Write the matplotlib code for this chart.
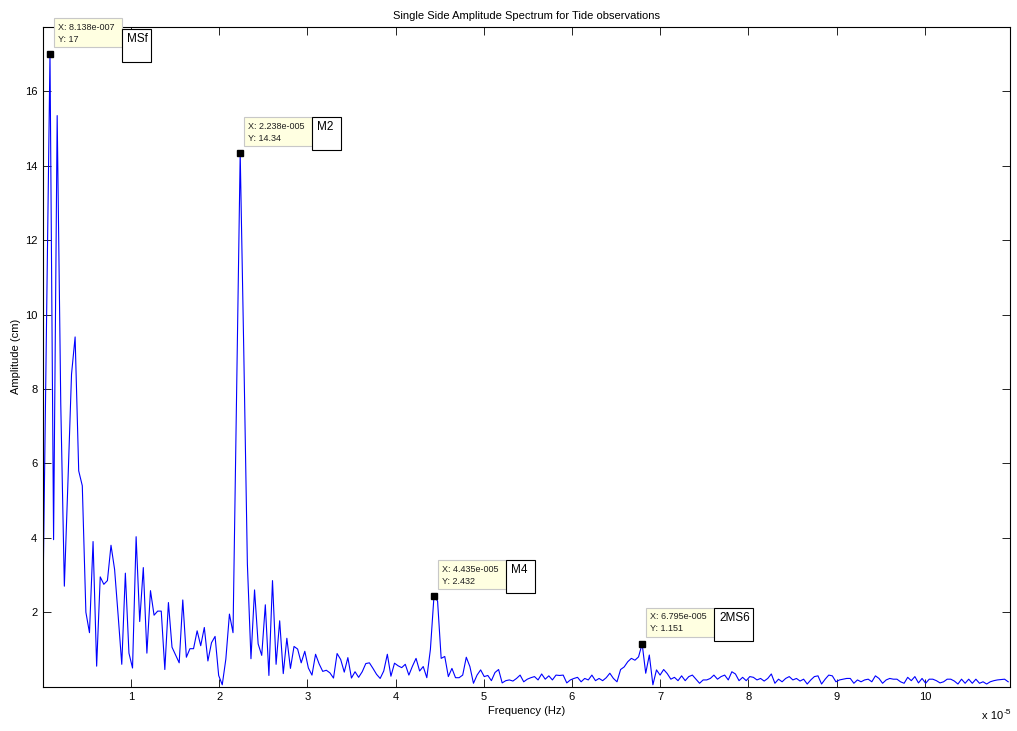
import numpy as np
import matplotlib
matplotlib.use('Agg')
import matplotlib.pyplot as plt
from matplotlib.patches import Rectangle
from matplotlib.transforms import ScaledTranslation

plt.rcParams['font.family'] = ['Liberation Sans', 'DejaVu Sans']

# frequency step of the spectrum (Hz)
df_hz = 4.069e-7

# single side amplitude (cm), one value per frequency bin
amp = [2.07, 9.5, 17.0, 3.95, 15.35, 7.6, 2.7, 5.5, 8.4, 9.4,
       5.8, 5.4, 2.0, 1.45, 3.9, 0.55, 2.95, 2.75, 2.85, 3.8,
       3.15, 1.9, 0.6, 3.05, 0.9, 0.5, 4.03, 1.75, 3.2, 0.9,
       2.58, 1.92, 2.03, 2.03, 0.46, 2.26, 1.06, 0.85, 0.64, 2.33,
       0.79, 1.02, 1.02, 1.5, 1.1, 1.59, 0.69, 1.18, 1.35, 0.3,
       0.05, 0.74, 1.95, 1.45, 7.8, 14.34, 9.0, 3.3, 0.75, 2.6,
       1.15, 0.84, 2.2, 0.3, 2.85, 0.6, 1.77, 0.35, 1.3, 0.49,
       1.08, 1.01, 0.64, 0.95, 0.5, 0.31, 0.87, 0.61, 0.41, 0.44,
       0.37, 0.23, 0.89, 0.73, 0.39, 0.78, 0.23, 0.4, 0.25, 0.4,
       0.62, 0.64, 0.49, 0.33, 0.22, 0.42, 0.87, 0.28, 0.63, 0.56,
       0.51, 0.6, 0.31, 0.55, 0.76, 0.42, 0.54, 0.24, 1.0, 2.432,
       2.3, 0.76, 0.81, 0.27, 0.49, 0.24, 0.24, 0.31, 0.79, 0.54,
       0.09, 0.31, 0.45, 0.27, 0.3, 0.16, 0.38, 0.46, 0.1, 0.16,
       0.18, 0.15, 0.22, 0.31, 0.13, 0.2, 0.24, 0.27, 0.18, 0.34,
       0.2, 0.29, 0.18, 0.31, 0.3, 0.31, 0.1, 0.18, 0.22, 0.25,
       0.13, 0.22, 0.18, 0.31, 0.16, 0.22, 0.16, 0.24, 0.36, 0.22,
       0.13, 0.46, 0.53, 0.67, 0.76, 0.71, 0.8, 1.151, 0.36, 0.85,
       0.05, 0.45, 0.31, 0.46, 0.35, 0.2, 0.25, 0.16, 0.29, 0.16,
       0.27, 0.31, 0.2, 0.09, 0.18, 0.18, 0.22, 0.31, 0.2, 0.27,
       0.31, 0.18, 0.4, 0.34, 0.16, 0.25, 0.16, 0.27, 0.25, 0.18,
       0.22, 0.15, 0.22, 0.34, 0.09, 0.2, 0.13, 0.22, 0.27, 0.18,
       0.22, 0.15, 0.2, 0.07, 0.18, 0.27, 0.29, 0.07, 0.2, 0.31,
       0.29, 0.13, 0.18, 0.2, 0.22, 0.22, 0.09, 0.18, 0.13, 0.18,
       0.2, 0.13, 0.29, 0.22, 0.09, 0.18, 0.22, 0.2, 0.2, 0.13,
       0.09, 0.25, 0.16, 0.27, 0.1, 0.22, 0.09, 0.2, 0.2, 0.16,
       0.1, 0.13, 0.2, 0.2, 0.15, 0.07, 0.2, 0.09, 0.2, 0.09,
       0.2, 0.09, 0.13, 0.07, 0.13, 0.16, 0.18, 0.19, 0.2, 0.13]

freq = np.arange(len(amp)) * df_hz

# data tips
tip_freq = [8.138e-7, 2.238e-5, 4.435e-5, 6.795e-5]
tip_amp = [17, 14.34, 2.432, 1.151]
tip_xtxt = ['8.138e-007', '2.238e-005', '4.435e-005', '6.795e-005']
tip_ytxt = ['17', '14.34', '2.432', '1.151']
tip_names = ['MSf', 'M2', 'M4', '2MS6']
name_w = [29, 29, 29, 39]
name_dy = [-11, 0, 0, 0]

fig = plt.figure(figsize=(10.17, 7.31), dpi=100)
ax = fig.add_axes([0.0421, 0.0607, 0.9510, 0.9023])

ax.plot(freq, amp, color='#0000ff', lw=0.8)
ax.set_xlim(0, 1.0966e-4)
ax.set_ylim(0, 17.73)

ax.set_xticks(np.arange(1, 11) * 1e-5)
ax.set_xticklabels([str(i) for i in range(1, 11)])
ax.set_yticks(np.arange(2, 17, 2))
ax.tick_params(direction='in', top=True, right=True, length=6, width=0.6,
               labelsize=8, pad=4)
for s in ax.spines.values():
    s.set_linewidth(0.8)

ax.set_title('Single Side Amplitude Spectrum for Tide observations', fontsize=8, pad=6)
ax.set_xlabel('Frequency (Hz)', fontsize=8, labelpad=3)
ax.set_ylabel('Amplitude (cm)', fontsize=8, labelpad=3)

fig.text(982 / 1017, 1 - 719 / 731, 'x 10', fontsize=8)
fig.text(1004 / 1017, 1 - 714 / 731, '-5', fontsize=6)


def px_tr(x, y):
    # offsets in pixels (1/100 inch) from a data point
    return fig.dpi_scale_trans + ScaledTranslation(x, y, ax.transData)


for f, a, xt, yt, nm, w, dy in zip(tip_freq, tip_amp, tip_xtxt, tip_ytxt,
                                    tip_names, name_w, name_dy):
    tr = px_tr(f, a)
    ax.plot([f], [a], 's', color='black', ms=5, clip_on=False, zorder=5)
    ax.add_patch(Rectangle((0.04, 0.07), 0.68, 0.29, transform=tr, facecolor='#ffffe1',
                           edgecolor='#c8c8c8', lw=0.8, clip_on=False, zorder=6))
    ax.text(0.08, 0.27, 'X: ' + xt, transform=tr, fontsize=6.5, va='center',
            color='#202020', zorder=7, clip_on=False)
    ax.text(0.08, 0.15, 'Y: ' + yt, transform=tr, fontsize=6.5, va='center',
            color='#202020', zorder=7, clip_on=False)
    d = dy / 100
    ax.add_patch(Rectangle((0.73, 0.02 + d), w / 100, 0.33, transform=tr, facecolor='#606060',
                           edgecolor='none', clip_on=False, zorder=6))
    ax.add_patch(Rectangle((0.72, 0.03 + d), w / 100, 0.33, transform=tr, facecolor='white',
                           edgecolor='black', lw=0.8, clip_on=False, zorder=6))
    ax.text(0.77, 0.26 + d, nm, transform=tr, fontsize=8.5, va='center',
            zorder=7, clip_on=False)

fig.savefig('out.png', dpi=100)
